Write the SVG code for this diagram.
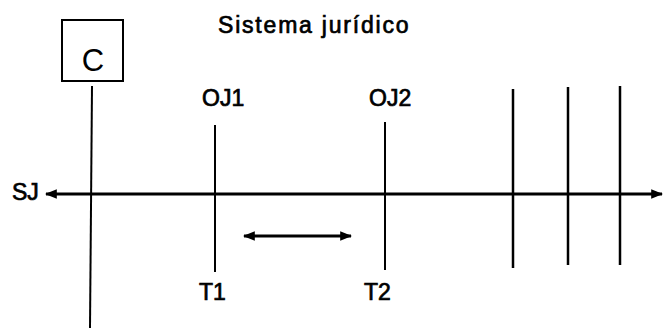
<svg xmlns="http://www.w3.org/2000/svg" width="664" height="330" viewBox="0 0 664 330">
<style>
text{font-family:"Liberation Sans",Arial,sans-serif;fill:#000}
.lbl{font-size:23px;stroke:#000;stroke-width:0.7}
.ln{stroke:#000;fill:none;stroke-linecap:butt}
</style>
<defs>
<marker id="ah" viewBox="0 0 10 10" refX="9" refY="5" markerWidth="4" markerHeight="4" orient="auto-start-reverse" markerUnits="strokeWidth">
<path d="M0,1 L10,5 L0,9 Z" fill="#000"/>
</marker>
</defs>
<rect width="664" height="330" fill="#fff"/>
<g id="title"><text class="lbl" x="218" y="33" font-size="24" letter-spacing="1.8">Sistema jurídico</text></g>
<g id="C">
<rect x="62" y="20" width="61" height="61" fill="none" stroke="#000" stroke-width="2"/>
<text x="93" y="71" font-size="31" text-anchor="middle">C</text>
</g>
<g id="SJ"><text class="lbl" x="12" y="200" font-size="22">SJ</text></g>
<g id="OJ1"><text class="lbl" x="202" y="106">OJ1</text></g>
<g id="OJ2"><text class="lbl" x="369" y="106">OJ2</text></g>
<g id="T1"><text class="lbl" x="199" y="300" font-size="24">T1</text></g>
<g id="T2"><text class="lbl" x="364" y="300" font-size="24">T2</text></g>
<g id="connectors">
<line class="ln" x1="92" y1="86" x2="90" y2="328" stroke-width="2"/>
<line class="ln" x1="46" y1="194" x2="662" y2="194" stroke-width="3" marker-start="url(#ah)" marker-end="url(#ah)"/>
<line class="ln" x1="215" y1="125" x2="215" y2="272" stroke-width="2"/>
<line class="ln" x1="385" y1="122" x2="385" y2="270" stroke-width="2"/>
<line class="ln" x1="513" y1="89" x2="513" y2="268" stroke-width="2.5"/>
<line class="ln" x1="568" y1="87" x2="568" y2="265" stroke-width="2.5"/>
<line class="ln" x1="620" y1="86" x2="620" y2="265" stroke-width="2.5"/>
<line class="ln" x1="244" y1="236" x2="351" y2="236" stroke-width="3" marker-start="url(#ah)" marker-end="url(#ah)"/>
</g>
</svg>
